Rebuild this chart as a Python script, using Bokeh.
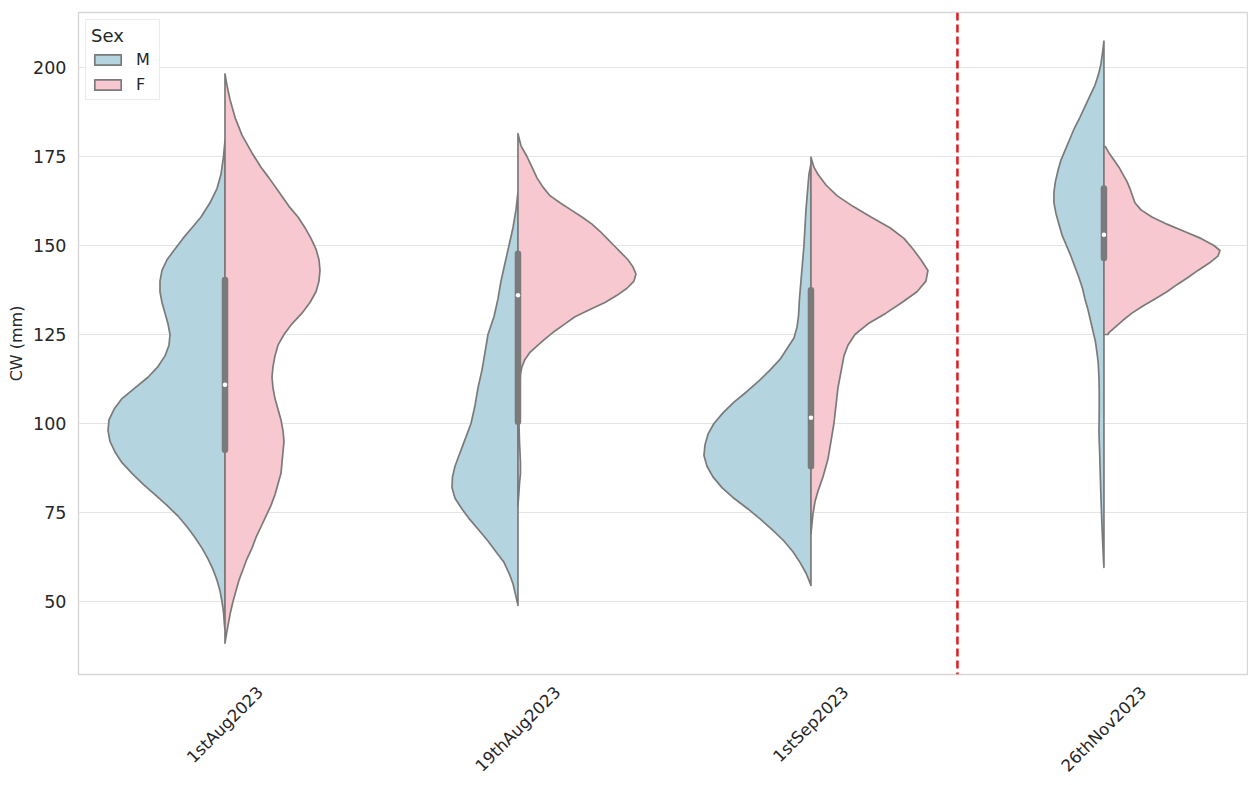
import math
from bokeh.plotting import figure
from bokeh.models import Span, Legend, LegendItem, FixedTicker, Range1d
from bokeh.embed import file_html
from bokeh.resources import INLINE

# ---------------- data ----------------
categories = ["1stAug2023", "19thAug2023", "1stSep2023", "26thNov2023"]
y_ticks = [50, 75, 100, 125, 150, 175, 200]

# kernel-density profiles: CW level (mm) and relative density (half-width)
m_cw_aug01 = [179.5, 175, 170, 166, 162, 158, 155, 152, 149, 146, 143, 140, 137, 134, 131, 128, 125, 122, 119, 116,
              113, 110, 107, 104, 101, 98, 95, 92, 89, 86, 83, 80, 77, 74, 71, 68, 65, 62, 59, 56, 53, 50, 47, 44, 42]
m_den_aug01 = [0, 1.5, 4, 8, 15, 24, 33, 42, 50, 58, 63, 65, 65, 63, 60, 57, 55, 56, 60, 67,
               77, 90, 103, 111, 116, 117, 115, 110, 103, 93, 82, 70, 58, 47, 38, 30, 23, 17, 12, 8, 5, 3, 1.5, 0.7, 0]
f_cw_aug01 = [198.2, 195, 191, 186, 181, 176, 172, 169, 165, 161, 158, 155, 152, 149, 146, 143, 140, 137, 134, 131,
              128, 125, 122, 119, 116, 113, 110, 107, 104, 101, 98, 95, 92, 89, 86, 83, 80, 77, 74, 71, 68, 65,
              62, 59, 56, 53, 50, 47, 44, 41, 38.3]
f_den_aug01 = [0, 2, 5, 10, 17, 27, 36, 44, 54, 64, 73, 80, 86, 91, 94, 95, 94, 91, 85, 77,
               67, 59, 53, 50, 48, 47, 48, 50, 53, 56, 58, 59, 58, 57, 56, 53, 50, 46, 41, 36, 31, 27,
               22, 18, 14, 11, 8, 5.5, 3.5, 1.5, 0]

m_cw_aug19 = [165, 160, 155, 150, 145, 140, 135, 130, 125, 120, 115, 110, 105, 100, 97, 94, 91, 88, 85, 82,
              79, 76, 73, 70, 67, 64, 61, 58, 55, 52, 48.9]
m_den_aug19 = [0, 2, 5, 9, 13, 17, 20, 24, 30, 33, 36, 40, 43, 47, 51, 55, 59, 63, 65.5, 66,
               63, 56, 48, 39, 30, 22, 14, 9, 5, 2.5, 0]
f_cw_aug19 = [181.4, 178, 175, 172, 169, 166.4, 164, 162, 160, 158, 156, 154, 152, 150, 148, 146, 144, 142, 140,
              138, 136, 134, 132, 130, 128, 126, 124, 122, 120, 118, 116, 114, 110, 105, 100, 95, 92, 89, 86,
              83, 80, 77]
f_den_aug19 = [0, 3, 9, 14, 19, 25, 32, 42, 53, 64, 74, 82, 89, 96, 103, 110, 115, 118, 116,
               109, 99, 87, 72, 57, 47, 37, 28, 20, 12, 7, 4, 2.5, 1.5, 1, 1, 1.5, 2, 2.5, 2.5,
               1.5, 0.8, 0]

m_cw_sep01 = [173, 170, 165, 160, 155, 150, 145, 140, 135, 130, 127, 124, 121, 118, 115, 112, 109, 106, 103, 100,
              97, 94, 91, 88, 85, 82, 79, 76, 73, 70, 67, 64, 61, 58, 56, 54.5]
m_den_sep01 = [0, 2, 3.5, 5, 6, 7, 8.5, 10, 11.5, 12.5, 14, 17, 24, 31, 41, 52, 64, 77, 88, 97,
               103, 106, 107, 104, 98, 89, 77, 63, 50, 38, 27, 18, 11, 5, 2, 0]
f_cw_sep01 = [174.8, 172, 170, 167, 164, 161, 158, 155, 152, 149, 146, 143, 140, 137, 134, 131, 128, 125, 122,
              119, 116, 113, 110, 105, 100, 95, 90, 85, 81, 78, 74.6, 69]
f_den_sep01 = [0, 3, 7, 15, 26, 42, 60, 79, 93, 102, 110, 117, 115, 106, 91, 75, 57, 44, 37,
               33, 31, 29, 27, 25, 23, 20, 17, 12, 7, 4, 2, 0]

m_cw_nov26 = [207.4, 204, 201, 198, 195, 192, 189, 186, 183, 180, 177, 174, 171, 168, 165, 162, 159, 156, 153, 150,
              147, 144, 141, 138, 135, 132, 129, 126, 123, 120, 117, 113, 109, 105, 101, 98, 95, 92, 89, 85,
              81, 77, 73, 69, 65, 62, 59.6]
m_den_nov26 = [0, 1.5, 3, 5.5, 9, 14, 19, 24, 29.5, 34, 38.5, 43, 46, 48.5, 50, 50, 48, 45, 42, 37.5,
               33, 29, 25, 21.5, 19, 16, 13.5, 11, 8.5, 7, 5.7, 5, 4.7, 4.7, 4.8, 5, 4.7, 4.3, 4, 3.6,
               3.2, 2.7, 2.2, 1.6, 1, 0.5, 0]
f_cw_nov26 = [177.8, 176, 174, 172, 170, 168, 166, 164, 162, 160, 158, 156, 154, 152, 150, 148.6, 147, 145, 143,
              141, 139, 137, 135, 133, 131, 129, 127, 125.5, 125]
f_den_nov26 = [1.5, 5, 10, 15, 19, 23, 26, 28.5, 31, 37, 48, 63, 80, 97, 110, 116, 114, 105, 94,
               84, 73, 63, 51, 39, 28, 19, 11, 5, 4]

# inner box: quartiles and median (mm)
q1_cw = [92.6, 100.5, 88.0, 146.5]
median_cw = [110.9, 136.0, 101.6, 153.0]
q3_cw = [140.3, 147.7, 137.4, 166.0]

m_profiles = [(m_cw_aug01, m_den_aug01), (m_cw_aug19, m_den_aug19), (m_cw_sep01, m_den_sep01), (m_cw_nov26, m_den_nov26)]
f_profiles = [(f_cw_aug01, f_den_aug01), (f_cw_aug19, f_den_aug19), (f_cw_sep01, f_den_sep01), (f_cw_nov26, f_den_nov26)]

# ---------------- style ----------------
FONT = "DejaVu Sans"
TEXT_COLOR = "#262626"
M_COLOR = "#b4d4df"
F_COLOR = "#f7c8d0"
EDGE = "#7a7a7a"
PX_PER_CAT = 293.0
DENSITY_SCALE = 1.0 / PX_PER_CAT   # relative density -> category units
X_FONT_PX = 16.5

p = figure(width=1248, height=785,
           x_range=Range1d(-0.5, 3.49), y_range=Range1d(29.5, 215.45),
           output_backend="svg", toolbar_location=None,
           min_border_left=78, min_border_right=1, min_border_top=12, min_border_bottom=111)

p.background_fill_color = "white"
p.border_fill_color = "white"
p.outline_line_color = "#d6d6d6"
p.outline_line_width = 1.4

p.xgrid.grid_line_color = None
p.ygrid.grid_line_color = "#e5e5e5"
p.ygrid.grid_line_width = 1.1

# violins
m_renderers = []
f_renderers = []
for i in range(len(categories)):
    cw, den = m_profiles[i]
    xs = [i] + [i - d * DENSITY_SCALE for d in den] + [i]
    ys = [cw[0]] + list(cw) + [cw[-1]]
    r = p.patch(xs, ys, fill_color=M_COLOR, line_color=EDGE, line_width=1.7, line_join="round")
    m_renderers.append(r)

    cw, den = f_profiles[i]
    xs = [i] + [i + d * DENSITY_SCALE for d in den] + [i]
    ys = [cw[0]] + list(cw) + [cw[-1]]
    r = p.patch(xs, ys, fill_color=F_COLOR, line_color=EDGE, line_width=1.7, line_join="round")
    f_renderers.append(r)

# inner boxes
xpos = list(range(len(categories)))
p.segment(x0=xpos, y0=q1_cw, x1=xpos, y1=q3_cw, line_color=EDGE, line_width=6.5, line_cap="round")
p.scatter(x=xpos, y=median_cw, marker="circle", size=4.5, fill_color="white", line_color=None)

# separator
p.add_layout(Span(location=2.5, dimension="height", line_color="#e0191c", line_width=2.5, line_dash="8 4"))

# x axis: rotated labels centred on the categories (Bokeh anchors rotated labels at their end,
# so the anchor is shifted by half the rotated text length, estimated from DejaVu advance widths)
_adv = {"0": .636, "1": .636, "2": .636, "3": .636, "6": .636, "9": .636, "s": .521, "t": .392, "h": .634,
        "A": .684, "u": .634, "g": .635, "S": .635, "e": .615, "p": .635, "N": .748, "o": .612, "v": .592}
tick_pos = []
for i, c in enumerate(categories):
    text_len = sum(_adv.get(ch, .6) for ch in c) * X_FONT_PX
    tick_pos.append(round(i + 0.354 * text_len / PX_PER_CAT, 4))
p.xaxis.ticker = FixedTicker(ticks=tick_pos)
p.xaxis.major_label_overrides = {t: c for t, c in zip(tick_pos, categories)}
p.xaxis.major_label_orientation = math.pi / 4
p.xaxis.major_label_standoff = 15
p.xaxis.major_label_text_font_size = "16.5px"

p.yaxis.ticker = FixedTicker(ticks=y_ticks)
p.yaxis.axis_label = "CW (mm)"
p.yaxis.axis_label_standoff = 4
p.yaxis.major_label_standoff = 12
p.yaxis.major_label_text_font_size = "17.5px"

for ax in (p.xaxis[0], p.yaxis[0]):
    ax.axis_line_color = None
    ax.major_tick_line_color = None
    ax.minor_tick_line_color = None
    ax.major_tick_out = 0
    ax.major_label_text_font = FONT
    ax.major_label_text_color = TEXT_COLOR
    ax.axis_label_text_font = FONT
    ax.axis_label_text_font_size = "16px"
    ax.axis_label_text_font_style = "normal"
    ax.axis_label_text_color = TEXT_COLOR

# legend
legend = Legend(items=[LegendItem(label="M", renderers=[m_renderers[0]]),
                       LegendItem(label="F", renderers=[f_renderers[0]])],
                title="Sex", location="top_left")
legend.title_text_font = FONT
legend.title_text_font_size = "18px"
legend.title_text_font_style = "normal"
legend.title_text_color = TEXT_COLOR
legend.title_standoff = 4
legend.label_text_font = FONT
legend.label_text_font_size = "16px"
legend.label_text_color = TEXT_COLOR
legend.glyph_width = 33
legend.glyph_height = 13
legend.label_height = 18
legend.label_width = 18
legend.label_standoff = 12
legend.spacing = 6
legend.padding = 5
legend.margin = 7
legend.border_line_color = "#d8d8d8"
legend.border_line_width = 1
legend.background_fill_color = "white"
legend.background_fill_alpha = 0.85
p.add_layout(legend)

open("out.html", "w").write(file_html(p, INLINE))
